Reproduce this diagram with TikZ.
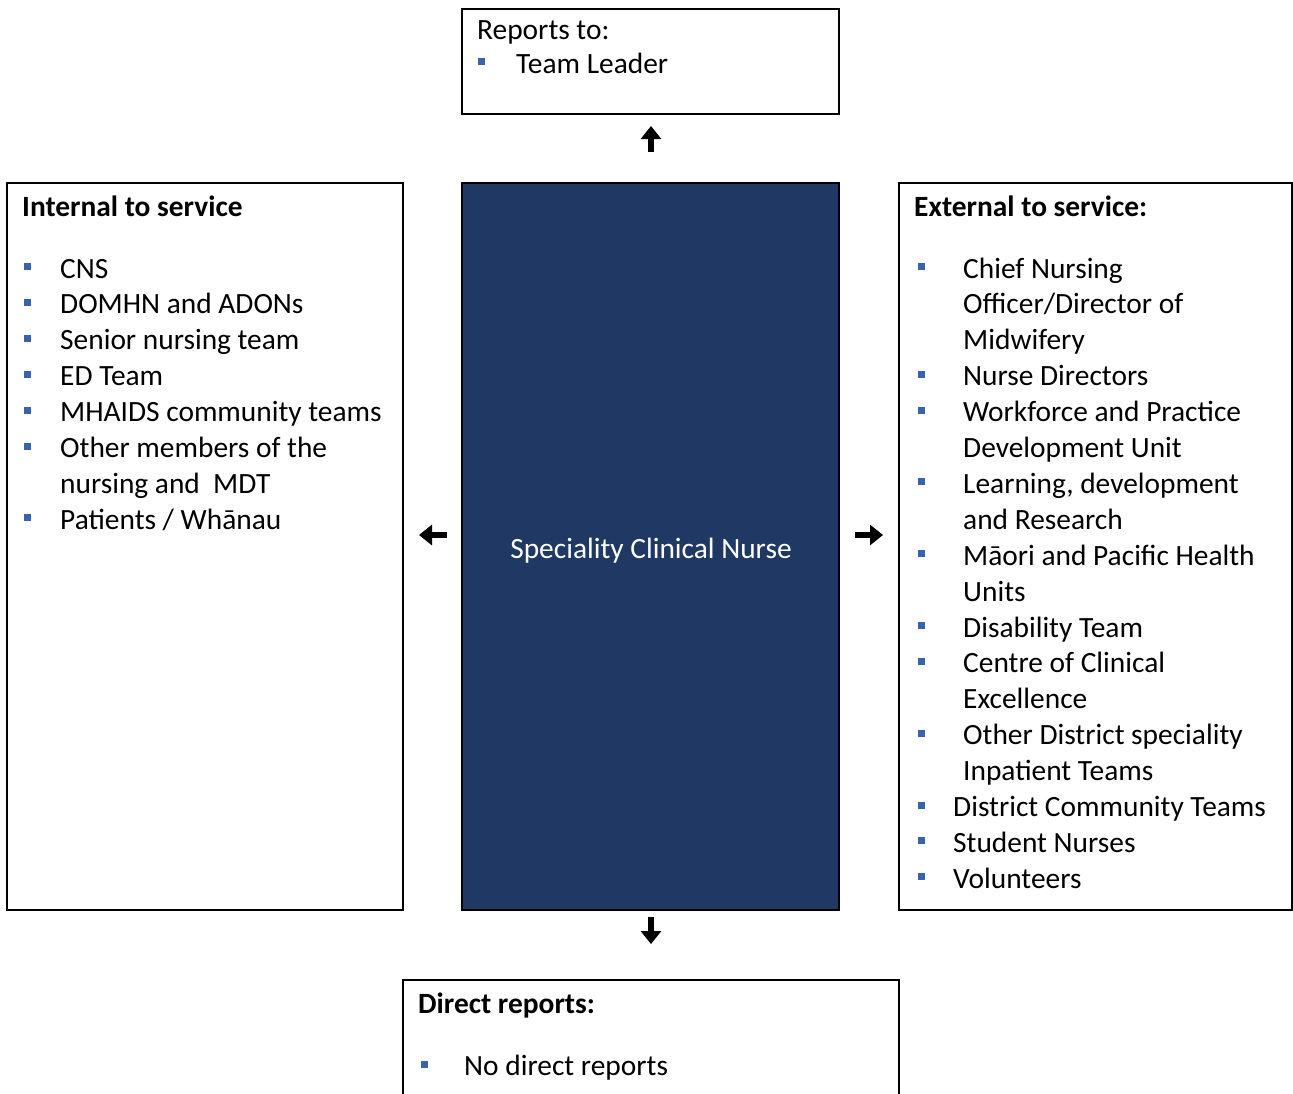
\documentclass[tikz,border=0pt]{standalone}
\usepackage{fontspec}
\setmainfont{Carlito}
\usetikzlibrary{arrows.meta}
\definecolor{navy}{HTML}{203864}
\definecolor{bulblue}{HTML}{3A62AD}
\newcommand{\fs}{\fontsize{29.4}{36}\selectfont}
\tikzset{
  box/.style={draw=black, line width=1.6pt},
  txt/.style={anchor=base west, inner sep=0pt, font=\fs},
  hd/.style={anchor=base west, inner sep=0pt, font=\fs\bfseries},
  bul/.style={fill=bulblue, draw=none, minimum size=7pt, inner sep=0pt},
  bigarrow/.style={line width=5.5pt, -{Triangle[width=20pt,length=13pt]}}
}
\begin{document}
\begin{tikzpicture}[x=1pt,y=-1pt]
\useasboundingbox (0,0) rectangle (1293,1093);
% boxes
\draw[box] (462,9) rectangle (839,114);
\draw[box] (7,183) rectangle (403,910);
\draw[box, fill=navy] (462,183) rectangle (839,910);
\draw[box] (899,183) rectangle (1292,910);
\draw[box] (403,1100) -- (403,980) -- (899,980) -- (899,1100);
% top
\node[txt] (rt) at (477,39) {Reports to:};
\node[bul] (rb1) at (481,61.5) {};
\node[txt] (rt1) at (516,73) {Team Leader};
% centre
\node[anchor=base, inner sep=0pt, font=\fs, text=white] (scn) at (651,558) {Speciality Clinical Nurse};
% left
\node[hd] (lh) at (22,216) {Internal to service};
\foreach \k in {0,1,2,3,4,5,7}{
  \node[bul] (lb\k) at (27,{278+35.9*\k-11.5}) {};
}
\node[txt] (l0) at (60,278) {CNS};
\node[txt] (l1) at (60,313.9) {DOMHN and ADONs};
\node[txt] (l2) at (60,349.8) {Senior nursing team};
\node[txt] (l3) at (60,385.7) {ED Team};
\node[txt] (l4) at (60,421.6) {MHAIDS community teams};
\node[txt] (l5) at (60,457.5) {Other members of the};
\node[txt] (l6) at (60,493.4) {nursing and\ \ MDT};
\node[txt] (l7) at (60,529.3) {Patients / Whānau};
% right
\node[hd] (rh) at (914,216) {External to service:};
\foreach \k in {0,3,4,6,8,10,11,13,15,16,17}{
  \node[bul] (rbl\k) at (921,{278+35.9*\k-11.5}) {};
}
\node[txt] (r0) at (963,278) {Chief Nursing};
\node[txt] (r1) at (963,313.9) {Officer/Director of};
\node[txt] (r2) at (963,349.8) {Midwifery};
\node[txt] (r3) at (963,385.7) {Nurse Directors};
\node[txt] (r4) at (963,421.6) {Workforce and Practice};
\node[txt] (r5) at (963,457.5) {Development Unit};
\node[txt] (r6) at (963,493.4) {Learning, development};
\node[txt] (r7) at (963,529.3) {and Research};
\node[txt] (r8) at (963,565.2) {Māori and Pacific Health};
\node[txt] (r9) at (963,601.1) {Units};
\node[txt] (r10) at (963,637) {Disability Team};
\node[txt] (r11) at (963,672.9) {Centre of Clinical};
\node[txt] (r12) at (963,708.8) {Excellence};
\node[txt] (r13) at (963,744.7) {Other District speciality};
\node[txt] (r14) at (963,780.6) {Inpatient Teams};
\node[txt] (r15) at (953,816.5) {District Community Teams};
\node[txt] (r16) at (953,852.4) {Student Nurses};
\node[txt] (r17) at (953,888.3) {Volunteers};
% bottom
\node[hd] (bh) at (418,1013) {Direct reports:};
\node[bul] (bb1) at (424,1064) {};
\node[txt] (bt1) at (464,1075.5) {No direct reports};
% arrows
\coordinate (au1) at (651,152); \coordinate (au2) at (651,126);
\coordinate (al1) at (447,535); \coordinate (al2) at (419,535);
\coordinate (ar1) at (855,535); \coordinate (ar2) at (883,535);
\coordinate (ad1) at (651,917); \coordinate (ad2) at (651,944);
\draw[bigarrow] (au1) -- (au2);
\draw[bigarrow] (al1) -- (al2);
\draw[bigarrow] (ar1) -- (ar2);
\draw[bigarrow] (ad1) -- (ad2);
\end{tikzpicture}
\end{document}
